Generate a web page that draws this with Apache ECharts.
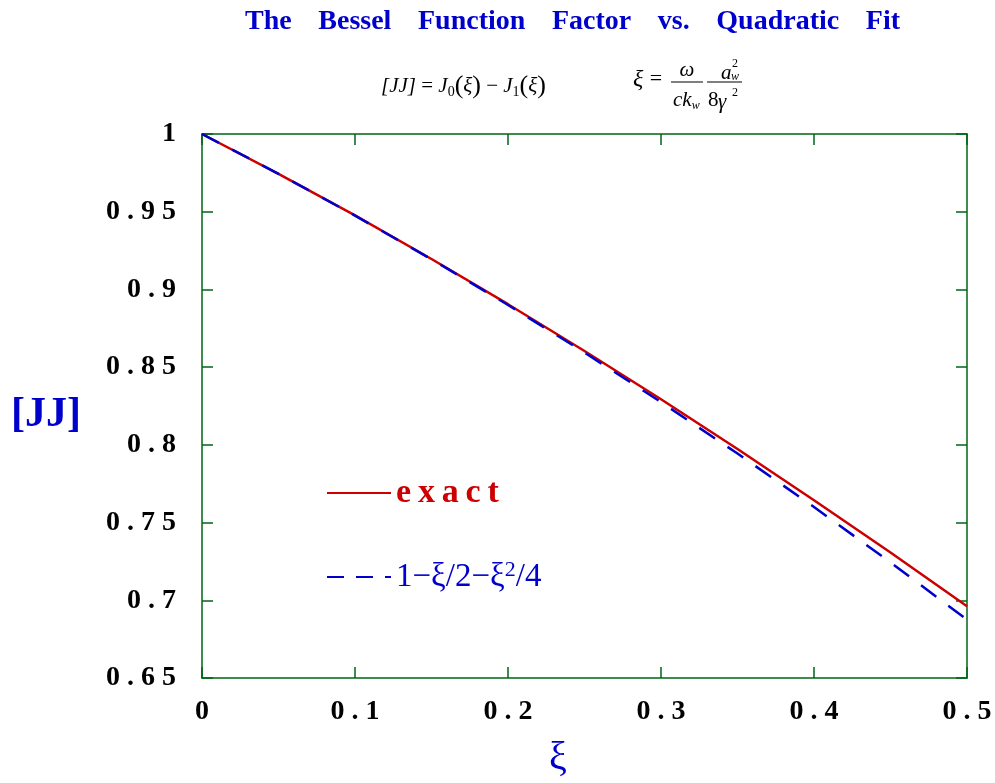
<!DOCTYPE html>
<html>
<head>
<meta charset="utf-8">
<script src="https://cdn.jsdelivr.net/npm/echarts@6/dist/echarts.min.js"></script>
<style>html,body{margin:0;padding:0;background:#fff}#c{width:995px;height:783px}</style>
</head>
<body>
<div id="c"></div>
<script>
// ---- data ----
const xVals = [0, 0.05, 0.1, 0.15, 0.2, 0.25, 0.3, 0.35, 0.4, 0.45, 0.5];
const exactVals = [1, 0.9744, 0.9476, 0.9196, 0.8905, 0.8604, 0.8293, 0.7973, 0.7644, 0.7307, 0.6962];
const fitVals = [1, 0.9744, 0.9475, 0.9194, 0.8900, 0.8594, 0.8275, 0.7944, 0.7600, 0.7244, 0.6875];
const xTicks = [0, 0.1, 0.2, 0.3, 0.4, 0.5];
const yTicks = [0.65, 0.7, 0.75, 0.8, 0.85, 0.9, 0.95, 1];
const seriesNames = ['exact', '1\u2212\u03be/2\u2212\u03be2/4'];

const SERIF = '"Liberation Serif", "Times New Roman", serif';
const BLUE = '#0000cc';
const RED = '#cc0000';
const GREEN = '#006414';

function spaced(v) {
  const s = String(Number(v.toFixed(2)));
  return s.split('').join(' ');
}

const chart = echarts.init(document.getElementById('c'));
const axisCommon = {
  type: 'value',
  axisLine: { show: true, onZero: false, lineStyle: { color: GREEN, width: 1.5 } },
  axisTick: { show: true, inside: true, length: 11, lineStyle: { color: GREEN, width: 1.5 } },
  splitLine: { show: false }
};

chart.setOption({
  animation: false,
  backgroundColor: '#fff',
  title: {
    text: 'The   \u2009Bessel   \u2009Function   \u2009Factor   \u2009vs.   \u2009Quadratic   \u2009Fit',
    left: 240, top: 3,
    textStyle: { fontFamily: SERIF, fontWeight: 'bold', fontSize: 28, color: BLUE }
  },
  grid: { left: 202, right: 28, top: 134, bottom: 105 },
  xAxis: [
    Object.assign({}, axisCommon, {
      position: 'bottom', min: xTicks[0], max: xTicks[xTicks.length - 1], interval: 0.1,
      axisLabel: { margin: 20, fontFamily: SERIF, fontWeight: 'bold', fontSize: 28, color: '#000', formatter: spaced }
    }),
    Object.assign({}, axisCommon, {
      position: 'top', min: xTicks[0], max: xTicks[xTicks.length - 1], interval: 0.1,
      axisLabel: { show: false }
    })
  ],
  yAxis: [
    Object.assign({}, axisCommon, {
      position: 'left', min: yTicks[0], max: yTicks[yTicks.length - 1], interval: 0.05,
      axisLabel: { margin: 26, fontFamily: SERIF, fontWeight: 'bold', fontSize: 28, color: '#000', formatter: spaced }
    }),
    Object.assign({}, axisCommon, {
      position: 'right', min: yTicks[0], max: yTicks[yTicks.length - 1], interval: 0.05,
      axisLabel: { show: false }
    })
  ],
  legend: [
    {
      data: [seriesNames[0]], left: 326, top: 476, orient: 'vertical', padding: 0,
      itemWidth: 64, itemHeight: 14, selectedMode: false,
      itemStyle: { opacity: 0 },
      formatter: () => '{e|e\u2009x\u2009a\u2009c\u2009t}',
      textStyle: { rich: { e: { fontFamily: SERIF, fontWeight: 'bold', fontSize: 34, color: RED, lineHeight: 36 } } }
    },
    {
      data: [seriesNames[1]], left: 326, top: 559, orient: 'vertical', padding: 0,
      itemWidth: 64, itemHeight: 14, selectedMode: false,
      itemStyle: { opacity: 0 },
      lineStyle: { type: [17, 12] },
      formatter: () => '{b|1\u2212\u03be/2\u2212\u03be}{s|2}{b|/4}',
      textStyle: { rich: {
        b: { fontFamily: SERIF, fontSize: 33, color: BLUE, lineHeight: 36 },
        s: { fontFamily: SERIF, fontSize: 22, color: BLUE, lineHeight: 20, verticalAlign: 'top' }
      } }
    }
  ],
  series: [
    {
      name: seriesNames[0], type: 'line', symbol: 'none', z: 2,
      data: xVals.map((x, i) => [x, exactVals[i]]),
      lineStyle: { color: RED, width: 2.5 }, itemStyle: { color: RED }
    },
    {
      name: seriesNames[1], type: 'line', symbol: 'none', z: 3,
      data: xVals.map((x, i) => [x, fitVals[i]]),
      lineStyle: { color: BLUE, width: 2.5, type: [19, 15] }, itemStyle: { color: BLUE }
    }
  ],
  graphic: [
    // axis names
    { type: 'text', x: 46, y: 415, style: { text: '[JJ]', font: 'bold 42px ' + SERIF, fill: BLUE, align: 'center', verticalAlign: 'middle' } },
    { type: 'text', x: 558, y: 758, style: { text: '\u03be', font: '40px ' + SERIF, fill: BLUE, align: 'center', verticalAlign: 'middle' } },
    // left formula
    { type: 'text', x: 381, y: 86, style: {
      text: '{i|[JJ]}{r| = }{i|J}{sub|0}{p|(}{i|\u03be}{p|)}{r| \u2212 }{i|J}{sub|1}{p|(}{i|\u03be}{p|)}',
      verticalAlign: 'middle', align: 'left',
      rich: {
        i: { font: 'italic 21px ' + SERIF, fill: '#000', lineHeight: 26 },
        r: { font: '21px ' + SERIF, fill: '#000', lineHeight: 26 },
        p: { font: '26px ' + SERIF, fill: '#000', lineHeight: 26 },
        sub: { font: '14px ' + SERIF, fill: '#000', lineHeight: 13, verticalAlign: 'bottom' }
      } } },
    // right formula
    { type: 'text', x: 633, y: 80, style: { text: '\u03be', font: 'italic 24px ' + SERIF, fill: '#000', align: 'left', verticalAlign: 'middle' } },
    { type: 'text', x: 656, y: 79, style: { text: '=', font: '22px ' + SERIF, fill: '#000', align: 'center', verticalAlign: 'middle' } },
    { type: 'text', x: 687, y: 70, style: { text: '\u03c9', font: 'italic 21px ' + SERIF, fill: '#000', align: 'center', verticalAlign: 'middle' } },
    { type: 'line', shape: { x1: 671, y1: 82, x2: 703, y2: 82 }, style: { stroke: '#000', lineWidth: 1 } },
    { type: 'text', x: 673, y: 100, style: { text: '{i|ck}{s|w}', align: 'left', verticalAlign: 'middle',
      rich: { i: { font: 'italic 21px ' + SERIF, fill: '#000', lineHeight: 24 }, s: { font: 'italic 12px ' + SERIF, fill: '#000', lineHeight: 12, verticalAlign: 'bottom' } } } },
    { type: 'line', shape: { x1: 707, y1: 82, x2: 742, y2: 82 }, style: { stroke: '#000', lineWidth: 1 } },
    { type: 'text', x: 721, y: 73, style: { text: 'a', font: 'italic 21px ' + SERIF, fill: '#000', align: 'left', verticalAlign: 'middle' } },
    { type: 'text', x: 731, y: 77, style: { text: 'w', font: 'italic 12px ' + SERIF, fill: '#000', align: 'left', verticalAlign: 'middle' } },
    { type: 'text', x: 732, y: 64, style: { text: '2', font: '12px ' + SERIF, fill: '#000', align: 'left', verticalAlign: 'middle' } },
    { type: 'text', x: 708, y: 100, style: { text: '8', font: '21px ' + SERIF, fill: '#000', align: 'left', verticalAlign: 'middle' } },
    { type: 'text', x: 718, y: 102, style: { text: '\u03b3', font: 'italic 21px ' + SERIF, fill: '#000', align: 'left', verticalAlign: 'middle' } },
    { type: 'text', x: 732, y: 93, style: { text: '2', font: '12px ' + SERIF, fill: '#000', align: 'left', verticalAlign: 'middle' } }
  ]
});
</script>
</body>
</html>
